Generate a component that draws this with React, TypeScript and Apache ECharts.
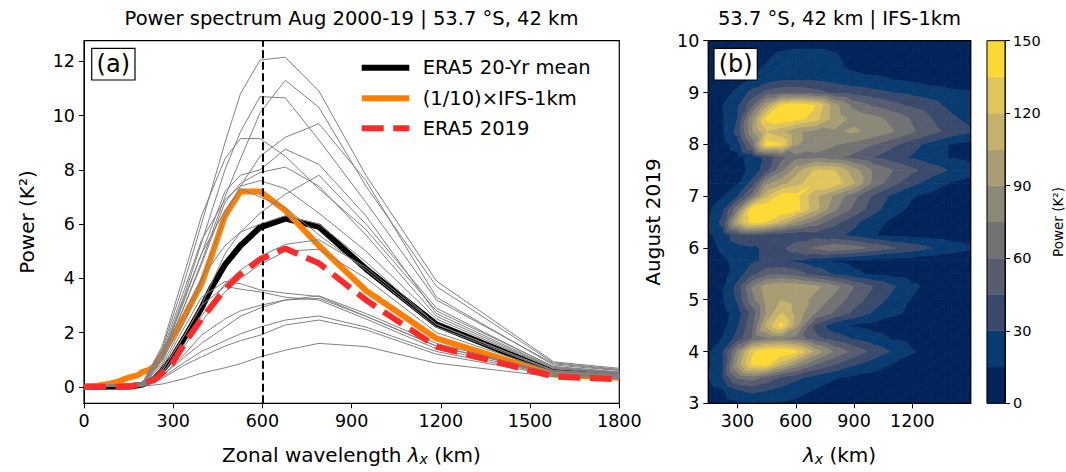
import React, { useEffect, useRef } from 'react';
import * as echarts from 'echarts';

const FONT = 'DejaVu Sans';

// ---------- Panel (a) data ----------
const WL = [0, 197, 263, 338, 395, 474, 526, 592, 677, 790, 948, 1185, 1579, 1800];
const YEARS: number[][] = [
  [0, 0.15, 1.4, 3.9, 6.0, 9.0, 10.8, 12.05, 12.15, 10.9, 7.8, 3.9, 0.92, 0.68],
  [0, 0.12, 1.2, 3.4, 5.3, 8.0, 9.4, 10.7, 10.65, 9.1, 6.8, 3.2, 0.85, 0.62],
  [0, 0.1, 1.0, 3.0, 4.6, 7.0, 8.4, 10.1, 11.3, 10.3, 7.4, 3.7, 0.88, 0.64],
  [0, 0.15, 1.5, 4.2, 6.3, 8.4, 9.15, 9.15, 8.5, 7.3, 5.8, 2.8, 0.75, 0.55],
  [0, 0.08, 0.8, 2.4, 3.9, 6.3, 7.4, 8.5, 9.2, 9.7, 7.6, 3.3, 0.8, 0.6],
  [0, 0.1, 1.1, 3.2, 4.9, 7.2, 7.8, 8.0, 8.76, 8.2, 6.3, 2.7, 0.7, 0.52],
  [0, 0.1, 1.0, 3.0, 4.5, 6.8, 7.5, 7.9, 8.1, 7.4, 5.6, 2.6, 0.68, 0.5],
  [0, 0.12, 1.3, 3.6, 5.4, 6.9, 7.4, 7.6, 7.3, 6.4, 5.0, 2.5, 0.66, 0.48],
  [0, 0.05, 0.6, 1.9, 3.0, 4.9, 5.7, 6.4, 7.1, 7.8, 6.0, 2.9, 0.72, 0.53],
  [0, 0.05, 0.5, 1.6, 2.6, 3.8, 4.3, 4.8, 5.25, 5.42, 4.4, 2.3, 0.6, 0.45],
  [0, 0.05, 0.5, 1.5, 2.4, 3.5, 4.0, 4.5, 5.0, 5.07, 4.0, 2.0, 0.55, 0.42],
  [0, 0.06, 0.7, 2.2, 3.3, 3.88, 3.8, 3.57, 3.45, 3.33, 2.6, 1.5, 0.5, 0.4],
  [0, 0.05, 0.6, 1.9, 3.0, 3.7, 3.6, 3.5, 3.3, 3.2, 2.5, 1.4, 0.48, 0.38],
  [0, 0.04, 0.4, 1.2, 1.9, 2.5, 2.8, 3.0, 3.2, 3.35, 2.7, 1.6, 0.5, 0.4],
  [0, 0.04, 0.4, 1.1, 1.6, 2.2, 2.6, 2.9, 3.2, 3.26, 2.6, 1.5, 0.5, 0.38],
  [0, 0.04, 0.35, 0.9, 1.3, 1.7, 1.95, 2.2, 2.46, 2.61, 2.2, 1.3, 0.45, 0.36],
  [0, 0.03, 0.3, 0.8, 1.1, 1.5, 1.7, 1.9, 2.28, 2.46, 2.1, 1.2, 0.42, 0.35],
  [0, 0.02, 0.1, 0.3, 0.5, 0.7, 0.85, 1.1, 1.35, 1.6, 1.48, 0.87, 0.37, 0.3],
  [0, 0.08, 0.9, 2.7, 4.0, 5.2, 5.7, 6.0, 6.3, 6.0, 4.6, 2.3, 0.6, 0.45],
  [0, 0.1, 1.1, 3.3, 4.9, 6.5, 7.3, 7.0, 6.6, 5.6, 4.3, 2.2, 0.58, 0.44],
];
const MEAN_X = [0, 158, 197, 237, 263, 296, 338, 395, 431, 474, 526, 592, 677, 790, 948, 1185, 1579, 1800];
const MEAN_Y = [0, 0.01, 0.08, 0.3, 0.6, 1.05, 1.8, 2.9, 3.7, 4.5, 5.2, 5.88, 6.2, 5.9, 4.35, 2.3, 0.55, 0.43];
const IFS_X = [0, 40, 80, 118, 140, 158, 180, 197, 215, 237, 263, 296, 338, 395, 431, 474, 526, 592, 677, 790, 948, 1185, 1579, 1800];
const IFS_Y = [0, 0.03, 0.1, 0.2, 0.3, 0.36, 0.42, 0.55, 0.6, 0.75, 1.2, 1.8, 2.6, 3.8, 4.9, 6.3, 7.2, 7.2, 6.5, 5.2, 3.55, 1.78, 0.45, 0.33];
const E19_X = [0, 118, 158, 197, 237, 296, 338, 395, 431, 474, 526, 592, 677, 790, 948, 1185, 1579, 1800];
const E19_Y = [0, 0, 0.02, 0.1, 0.25, 0.85, 1.6, 2.5, 3.0, 3.6, 4.15, 4.7, 5.1, 4.55, 3.2, 1.48, 0.38, 0.27];
const A_YTICKS = [0, 2, 4, 6, 8, 10, 12];

// ---------- Panel (b) data ----------
const HM_X = [150, 225, 300, 375, 450, 525, 600, 700, 800, 900, 1000, 1100, 1200, 1300, 1400, 1500];
const HM_DAYS = [3, 3.25, 3.5, 3.75, 4, 4.25, 4.5, 4.75, 5, 5.25, 5.5, 5.75, 6, 6.25, 6.5, 6.75, 7, 7.25, 7.5, 7.75, 8, 8.25, 8.5, 8.75, 9, 9.25, 9.5, 9.75, 10];
const HM_ROWS: number[][] = [
  [5, 8, 12, 16, 16, 14, 12, 10, 8, 6, 5, 4, 4, 4, 4, 4],
  [8, 14, 28, 34, 30, 25, 20, 14, 10, 8, 6, 5, 5, 5, 5, 5],
  [15, 30, 62, 68, 56, 42, 34, 24, 16, 12, 10, 8, 6, 5, 5, 5],
  [12, 28, 94, 138, 140, 110, 86, 60, 45, 32, 22, 14, 10, 7, 6, 5],
  [12, 30, 80, 132, 148, 150, 140, 100, 72, 55, 40, 28, 16, 10, 7, 6],
  [8, 16, 36, 60, 72, 75, 70, 50, 38, 28, 20, 14, 10, 7, 6, 5],
  [5, 10, 28, 55, 110, 140, 95, 40, 20, 13, 10, 8, 6, 5, 5, 5],
  [5, 10, 22, 50, 92, 120, 100, 75, 58, 42, 28, 18, 12, 8, 6, 5],
  [6, 14, 32, 70, 94, 104, 98, 85, 70, 52, 38, 25, 14, 8, 6, 5],
  [6, 14, 35, 76, 98, 104, 102, 94, 80, 60, 45, 32, 18, 10, 7, 5],
  [5, 10, 22, 40, 55, 58, 52, 40, 28, 18, 12, 9, 7, 6, 5, 5],
  [6, 12, 20, 28, 32, 32, 28, 20, 14, 10, 8, 7, 6, 5, 5, 5],
  [8, 18, 25, 28, 32, 42, 52, 62, 70, 66, 56, 46, 38, 30, 22, 17],
  [12, 22, 40, 45, 38, 35, 35, 38, 34, 26, 16, 11, 9, 8, 7, 6],
  [14, 35, 108, 142, 134, 114, 90, 70, 50, 34, 20, 12, 9, 7, 6, 5],
  [12, 26, 72, 144, 149, 150, 142, 110, 78, 56, 36, 20, 12, 9, 7, 6],
  [8, 14, 30, 66, 116, 142, 140, 108, 86, 64, 42, 26, 16, 11, 8, 7],
  [5, 8, 14, 35, 86, 100, 112, 133, 131, 106, 70, 50, 34, 22, 14, 10],
  [4, 6, 10, 18, 40, 70, 98, 122, 120, 96, 72, 60, 48, 38, 28, 20],
  [4, 6, 10, 20, 35, 55, 70, 72, 65, 55, 45, 36, 28, 20, 14, 10],
  [6, 10, 22, 65, 142, 136, 92, 80, 76, 70, 60, 48, 36, 24, 14, 10],
  [8, 14, 35, 88, 118, 108, 92, 86, 88, 92, 86, 76, 62, 50, 40, 32],
  [8, 14, 30, 86, 140, 148, 142, 128, 98, 86, 80, 70, 58, 45, 33, 25],
  [8, 15, 28, 55, 100, 138, 146, 136, 96, 70, 58, 50, 42, 36, 25, 18],
  [6, 10, 18, 35, 50, 55, 55, 50, 42, 38, 34, 30, 26, 22, 18, 16],
  [5, 7, 10, 16, 22, 28, 30, 28, 24, 20, 18, 15, 12, 8, 6, 5],
  [5, 6, 8, 12, 16, 20, 22, 22, 18, 12, 8, 7, 6, 5, 5, 5],
  [4, 5, 6, 8, 12, 17, 20, 20, 16, 10, 7, 6, 5, 4, 4, 4],
  [3, 4, 5, 5, 6, 6, 6, 6, 5, 5, 4, 4, 3, 3, 3, 3],
];
const LEVELS = [0, 15, 30, 45, 60, 75, 90, 105, 120, 135, 150];
const LEVEL_COLORS = ['#01255a', '#0a3b70', '#3a4a6c', '#575d6e', '#727173', '#8c8878', '#a89c73', '#c4b16b', '#e0c45c', '#fcd935'];
const B_XTICKS = [300, 600, 900, 1200];

type P = { x: number; y: number; v: number };
function clipPoly(poly: P[], t: number, s: number): P[] {
  const out: P[] = [];
  const n = poly.length;
  for (let k = 0; k < n; k++) {
    const a = poly[k];
    const b = poly[(k + 1) % n];
    const fa = s * (a.v - t);
    const fb = s * (b.v - t);
    if (fa >= 0) out.push(a);
    if ((fa >= 0) !== (fb >= 0) && isFinite(fa) && isFinite(fb)) {
      const u = fa / (fa - fb);
      out.push({ x: a.x + u * (b.x - a.x), y: a.y + u * (b.y - a.y), v: a.v + u * (b.v - a.v) });
    }
  }
  return out;
}

function pairs(xs: number[], ys: number[]) {
  return xs.map((x, i) => [x, ys[i]]);
}

const axisBase = {
  axisLine: { show: true, onZero: false, lineStyle: { color: '#000', width: 1 } },
  axisTick: { show: true, length: 5, lineStyle: { color: '#000', width: 1 } },
  splitLine: { show: false },
};
const plain = (v: number) => String(v);

export default function App() {
  const ref = useRef<HTMLDivElement>(null);
  useEffect(() => {
    if (!ref.current) return;
    const chart = echarts.init(ref.current, null, { renderer: 'svg' });

    const cells: number[][] = [];
    for (let j = 0; j < HM_DAYS.length - 1; j++) {
      for (let i = 0; i < HM_X.length - 1; i++) {
        cells.push([HM_X[i], HM_DAYS[j], i, j]);
      }
    }

    const series: any[] = [];
    series.push({
      type: 'line', xAxisIndex: 0, yAxisIndex: 0, data: pairs(MEAN_X, MEAN_Y), showSymbol: false, symbol: 'none',
      lineStyle: { color: '#000', width: 6 }, z: 2,
    });
    series.push({
      type: 'line', xAxisIndex: 0, yAxisIndex: 0, data: pairs(IFS_X, IFS_Y), showSymbol: false, symbol: 'none',
      lineStyle: { color: '#ff8000', width: 6 }, z: 3,
    });
    YEARS.forEach((ys) => {
      series.push({
        type: 'line', xAxisIndex: 0, yAxisIndex: 0, data: pairs(WL, ys), showSymbol: false, symbol: 'none',
        lineStyle: { color: '#808080', width: 1 }, z: 4,
      });
    });
    series.push({
      type: 'line', xAxisIndex: 0, yAxisIndex: 0, data: pairs(E19_X, E19_Y), showSymbol: false, symbol: 'none',
      lineStyle: { color: '#ff2a2a', width: 6, type: [22, 9.5] }, z: 5,
      markLine: {
        silent: true, symbol: ['none', 'none'], label: { show: false },
        lineStyle: { color: '#000', width: 2, type: [8, 3.5] },
        data: [{ xAxis: 600 }],
      },
    });
    series.push({
      type: 'custom', xAxisIndex: 1, yAxisIndex: 1, coordinateSystem: 'cartesian2d',
      encode: { x: 0, y: 1 }, data: cells, silent: true,
      renderItem: (params: any, api: any) => {
        const i = api.value(2);
        const j = api.value(3);
        const corners = [[i, j], [i + 1, j], [i + 1, j + 1], [i, j + 1]].map(([c, r]) => {
          const p = api.coord([HM_X[c], HM_DAYS[r]]);
          return { x: p[0], y: p[1], v: HM_ROWS[r][c] };
        });
        const tris = [[corners[0], corners[1], corners[2]], [corners[0], corners[2], corners[3]]];
        const children: any[] = [];
        tris.forEach((tri) => {
          for (let b = 0; b < LEVEL_COLORS.length; b++) {
            const lo = b === 0 ? -Infinity : LEVELS[b];
            const hi = b === LEVEL_COLORS.length - 1 ? Infinity : LEVELS[b + 1];
            let poly = clipPoly(tri, lo, 1);
            if (poly.length < 3) continue;
            poly = clipPoly(poly, hi, -1);
            if (poly.length < 3) continue;
            children.push({
              type: 'polygon',
              shape: { points: poly.map((p) => [p.x, p.y]) },
              style: { fill: LEVEL_COLORS[b], stroke: LEVEL_COLORS[b], lineWidth: 0.8 },
            });
          }
        });
        return { type: 'group', children };
      },
    });
    series.push({
      type: 'custom', xAxisIndex: 2, yAxisIndex: 2, coordinateSystem: 'cartesian2d',
      encode: { x: 0, y: 1 }, silent: true,
      data: LEVEL_COLORS.map((_, k) => [0, LEVELS[k], k]),
      renderItem: (params: any, api: any) => {
        const k = api.value(2);
        const p0 = api.coord([0, LEVELS[k]]);
        const p1 = api.coord([1, LEVELS[k + 1]]);
        return {
          type: 'rect',
          shape: { x: p0[0], y: p1[1], width: p1[0] - p0[0], height: p0[1] - p1[1] },
          style: { fill: LEVEL_COLORS[k], stroke: LEVEL_COLORS[k], lineWidth: 0.5 },
        };
      },
    });

    const txt = (x: number, y: number, text: string, size: number, extra: any = {}) => ({
      type: 'text', x, y, z: 100, ...extra,
      style: {
        text, fill: '#000', fontSize: size, fontFamily: FONT,
        align: 'center', verticalAlign: 'middle', textAlign: 'center', textVerticalAlign: 'middle',
        ...(extra.style || {}),
      },
    });

    const legendItems = [
      { y: 67.7, color: '#000', dash: null as any, label: 'ERA5 20-Yr mean' },
      { y: 98.3, color: '#ff8000', dash: null as any, label: '(1/10)×IFS-1km' },
      { y: 128.3, color: '#ff2a2a', dash: [22, 9.5], label: 'ERA5 2019' },
    ];

    const richLabel = {
      n: { fontSize: 20, fontFamily: FONT, lineHeight: 22, fill: '#000' },
      l: { fontSize: 20, fontFamily: FONT, fontStyle: 'italic', lineHeight: 22, fill: '#000' },
      s: { fontSize: 14, fontFamily: FONT, fontStyle: 'italic', lineHeight: 10, verticalAlign: 'bottom', fill: '#000' },
    };

    const graphic: any[] = [
      txt(351.5, 18, 'Power spectrum Aug 2000-19 | 53.7 °S, 42 km', 19.5),
      txt(839.5, 18, '53.7 °S, 42 km | IFS-1km', 19.5),
      txt(27, 222, 'Power (K²)', 20, { rotation: Math.PI / 2 }),
      txt(653, 222, 'August 2019', 20, { rotation: Math.PI / 2 }),
      txt(1058, 222, 'Power (K²)', 13.5, { rotation: Math.PI / 2 }),
      {
        type: 'text', x: 351.5, y: 455, z: 100,
        style: {
          text: '{n|Zonal wavelength }{l|λ}{s|x}{n| (km)}',
          align: 'center', verticalAlign: 'middle', textAlign: 'center', textVerticalAlign: 'middle',
          fill: '#000', rich: richLabel,
        },
      },
      {
        type: 'text', x: 839.5, y: 455, z: 100,
        style: {
          text: '{l|λ}{s|x}{n| (km)}',
          align: 'center', verticalAlign: 'middle', textAlign: 'center', textVerticalAlign: 'middle',
          fill: '#000', rich: richLabel,
        },
      },
      { type: 'rect', z: 100, shape: { x: 91.7, y: 48.3, width: 43.3, height: 31.7 }, style: { fill: '#fff', stroke: '#000', lineWidth: 1.2 } },
      txt(113.3, 64.2, '(a)', 24, { z: 101 }),
      { type: 'rect', z: 100, shape: { x: 714, y: 48.3, width: 43.3, height: 31.7 }, style: { fill: '#fff', stroke: '#000', lineWidth: 1.2 } },
      txt(735.7, 64.2, '(b)', 24, { z: 101 }),
      { type: 'rect', z: 90, shape: { x: 708.3, y: 40.7, width: 262.4, height: 362.6 }, style: { fill: 'none', stroke: '#000', lineWidth: 1.2 } },
      { type: 'rect', z: 90, shape: { x: 987, y: 40.7, width: 18, height: 362.6 }, style: { fill: 'none', stroke: '#000', lineWidth: 1 } },
    ];
    legendItems.forEach((it) => {
      graphic.push({
        type: 'line', z: 100,
        shape: { x1: 361.7, y1: it.y, x2: 409.3, y2: it.y },
        style: { stroke: it.color, lineWidth: 6, lineDash: it.dash || undefined },
      });
      graphic.push({
        type: 'text', x: 422.7, y: it.y, z: 100,
        style: {
          text: it.label, fill: '#000', fontSize: 19.5, fontFamily: FONT,
          align: 'left', verticalAlign: 'middle', textAlign: 'left', textVerticalAlign: 'middle',
        },
      });
    });

    const labelStyle = (size: number) => ({ color: '#000', fontSize: size, fontFamily: FONT, formatter: plain });

    chart.setOption({
      animation: false,
      backgroundColor: '#fff',
      textStyle: { fontFamily: FONT },
      grid: [
        { left: 84, right: 446.7, top: 40.7, bottom: 68.7, show: true, borderColor: '#000', borderWidth: 1.2, backgroundColor: 'transparent' },
        { left: 708.3, right: 95.3, top: 40.7, bottom: 68.7 },
        { left: 987, right: 61, top: 40.7, bottom: 68.7 },
      ],
      xAxis: [
        { ...axisBase, gridIndex: 0, type: 'value', min: 0, max: 1800, interval: 300, axisLabel: { ...labelStyle(17.5), margin: 9 } },
        {
          ...axisBase, gridIndex: 1, type: 'value', min: 150, max: 1500,
          axisTick: { ...axisBase.axisTick, customValues: B_XTICKS },
          axisLabel: { ...labelStyle(17.5), margin: 9, customValues: B_XTICKS },
        },
        { gridIndex: 2, type: 'value', min: 0, max: 1, show: false },
      ],
      yAxis: [
        {
          ...axisBase, gridIndex: 0, type: 'value', min: -0.61, max: 12.76,
          axisTick: { ...axisBase.axisTick, customValues: A_YTICKS },
          axisLabel: { ...labelStyle(17.5), margin: 9, customValues: A_YTICKS },
        },
        { ...axisBase, gridIndex: 1, type: 'value', min: 3, max: 10, interval: 1, axisLabel: { ...labelStyle(17.5), margin: 9 } },
        {
          ...axisBase, gridIndex: 2, type: 'value', min: 0, max: 150, interval: 30, position: 'right',
          axisLabel: { ...labelStyle(14.5), margin: 8 },
        },
      ],
      series,
      graphic,
    });
    return () => chart.dispose();
  }, []);
  return (
    <div
      ref={ref}
      style={{ position: 'fixed', left: 0, top: 0, width: 1066, height: 472, background: '#fff' }}
    />
  );
}
